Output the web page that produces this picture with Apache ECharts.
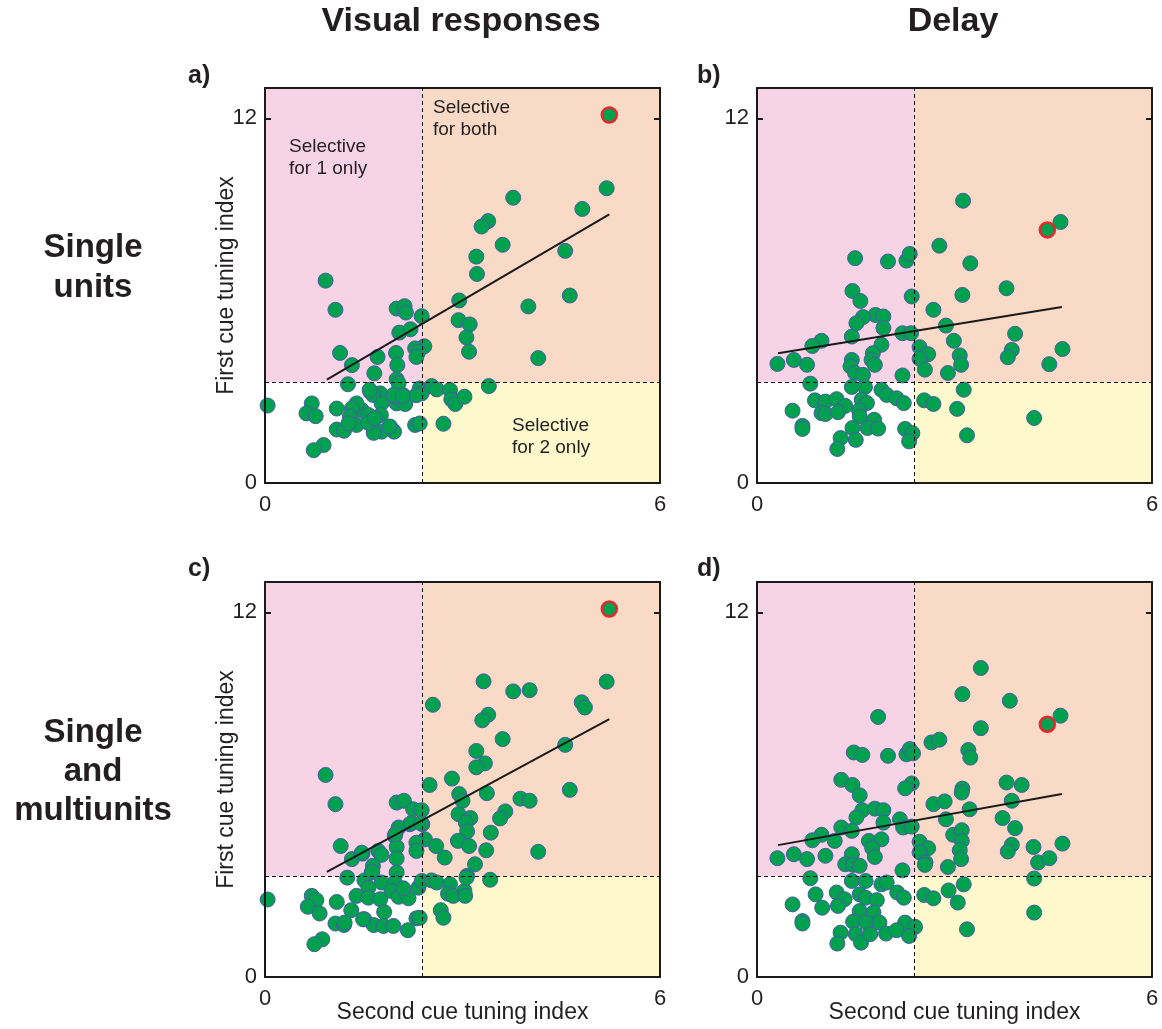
<!DOCTYPE html>
<html><head><meta charset="utf-8">
<script src="https://cdn.jsdelivr.net/npm/echarts@6/dist/echarts.min.js"></script>
<style>html,body{margin:0;padding:0;background:#fff}#c{width:1162px;height:1029px}</style>
</head><body><div id="c"></div>
<script>
// ---- data ----
const xTickValues = [0, 6];
const yTickValues = [0, 12];
const xThresh = 2.39;
const yThresh = 3.32;

const ptsA = [[5.19,9.70],[3.77,9.39],[4.82,9.02],[3.39,8.62],[3.29,8.44],[3.61,7.84],[4.56,7.64],[3.21,7.45],[3.22,6.88],[0.92,6.66],[4.63,6.17],[2.95,6.01],[4.00,5.81],[1.07,5.70],[2.00,5.74],[2.12,5.82],[2.14,5.61],[2.38,5.49],[2.94,5.36],[3.11,5.22],[2.04,4.95],[2.21,5.06],[3.06,4.79],[3.10,4.32],[2.42,4.50],[2.28,4.43],[2.33,4.32],[2.30,4.15],[1.14,4.28],[1.71,4.15],[1.99,4.28],[2.01,3.88],[4.15,4.11],[1.32,3.88],[1.66,3.61],[2.00,3.41],[2.03,3.28],[1.26,3.25],[3.40,3.19],[1.60,3.00],[1.75,2.95],[1.64,2.90],[1.77,2.62],[1.76,2.24],[1.90,1.85],[1.96,1.69],[1.77,1.69],[1.65,1.65],[1.47,2.40],[1.57,2.24],[1.39,2.62],[1.32,2.45],[1.29,2.18],[1.39,1.91],[1.57,1.98],[1.67,2.13],[2.00,2.62],[2.13,2.60],[1.98,2.84],[2.10,2.89],[2.35,3.11],[2.38,2.95],[2.30,2.89],[2.53,3.19],[2.61,3.08],[2.81,3.06],[2.83,2.75],[2.89,2.60],[3.03,2.84],[0.04,2.55],[0.71,2.62],[0.63,2.29],[0.77,2.20],[1.09,2.45],[1.09,1.76],[1.20,1.72],[2.28,1.91],[2.35,1.96],[2.71,1.95],[0.89,1.25],[0.74,1.08],[1.27,1.97],[1.89,1.86],[1.59,3.07],[1.95,2.90],[2.09,2.87]];
const hiA = [[5.23,12.11]];
const fitA = [[0.94,3.40],[5.23,8.84]];

const ptsB = [[4.61,8.59],[3.13,9.29],[2.77,7.81],[1.49,7.40],[1.99,7.29],[2.27,7.32],[2.32,7.54],[3.24,7.23],[3.79,6.41],[3.12,6.19],[1.45,6.32],[1.57,5.99],[2.35,6.14],[2.68,5.70],[1.80,5.53],[1.92,5.48],[1.61,5.46],[1.51,5.26],[1.92,5.10],[2.87,5.18],[1.44,4.82],[2.21,4.93],[2.34,4.93],[3.92,4.91],[0.98,4.68],[0.84,4.51],[2.99,4.68],[1.89,4.55],[2.47,4.47],[2.60,4.24],[2.47,4.09],[3.87,4.38],[3.81,4.14],[4.64,4.41],[1.76,4.27],[1.74,4.05],[1.79,3.89],[3.08,4.20],[3.10,3.89],[0.31,3.92],[0.56,4.05],[0.76,3.89],[4.44,3.91],[1.44,4.05],[1.42,3.84],[1.49,3.62],[1.61,3.56],[2.55,3.73],[2.21,3.54],[2.90,3.62],[0.81,3.27],[1.44,3.16],[1.64,3.16],[1.89,3.07],[1.97,2.90],[3.14,3.07],[0.88,2.72],[1.04,2.68],[1.21,2.76],[1.34,2.54],[1.59,2.74],[1.67,2.63],[2.12,2.79],[2.23,2.63],[2.54,2.72],[2.68,2.60],[3.04,2.44],[0.54,2.38],[0.98,2.30],[1.04,2.27],[1.23,2.33],[1.55,2.39],[1.56,2.19],[4.21,2.14],[0.69,1.88],[0.69,1.78],[1.45,1.81],[1.78,2.08],[1.68,1.81],[1.84,1.79],[2.25,1.78],[2.36,1.64],[2.31,1.37],[3.19,1.57],[1.27,1.48],[1.50,1.42],[1.22,1.12]];
const hiB = [[4.41,8.33]];
const fitB = [[0.32,4.27],[4.63,5.79]];

const ptsC = [[5.19,9.72],[3.32,9.73],[3.77,9.40],[4.02,9.44],[2.55,8.96],[4.81,9.04],[4.86,8.87],[3.39,8.63],[3.30,8.45],[3.61,7.83],[4.56,7.64],[3.21,7.44],[3.34,7.03],[3.21,6.90],[0.92,6.65],[2.84,6.53],[2.50,6.32],[4.63,6.16],[2.95,6.02],[3.00,5.80],[3.37,6.05],[3.88,5.87],[4.02,5.80],[1.07,5.69],[2.00,5.74],[2.11,5.80],[2.25,5.52],[2.38,5.49],[2.39,5.03],[2.20,5.03],[2.03,4.92],[1.97,4.64],[2.94,5.36],[3.12,5.23],[3.05,5.08],[3.65,5.45],[3.57,5.22],[3.07,4.79],[3.43,4.75],[2.43,4.53],[2.30,4.42],[2.30,4.15],[2.93,4.48],[3.10,4.31],[2.60,4.31],[4.15,4.12],[3.36,4.17],[1.15,4.31],[1.72,4.15],[1.77,4.02],[1.48,4.06],[1.32,3.88],[2.00,4.28],[2.00,3.90],[2.73,3.93],[3.19,3.71],[1.64,3.66],[1.62,3.44],[2.00,3.44],[1.25,3.27],[3.07,3.33],[3.42,3.20],[0.71,2.67],[0.78,2.53],[0.65,2.31],[0.83,2.09],[1.09,2.47],[1.07,1.76],[1.20,1.71],[0.87,1.24],[0.75,1.08],[1.51,3.18],[1.63,3.47],[1.77,3.11],[1.97,3.11],[1.57,2.94],[1.39,2.67],[1.57,2.61],[1.75,2.56],[1.92,2.83],[2.03,2.64],[2.18,2.59],[2.10,2.92],[1.31,2.20],[1.51,1.90],[1.65,1.71],[1.81,2.14],[1.80,1.68],[1.95,1.68],[2.17,1.54],[2.30,1.93],[2.35,1.95],[2.67,2.20],[2.71,1.95],[2.33,2.94],[2.38,3.16],[2.53,3.18],[2.61,3.11],[2.81,3.05],[2.78,2.74],[2.86,2.67],[3.03,2.83],[3.04,2.67],[3.06,3.27],[1.47,4.09],[2.22,5.06],[2.37,5.06],[1.98,4.70],[0.04,2.55],[1.21,1.79],[1.49,1.90]];
const hiC = [[5.23,12.11]];
const fitC = [[0.94,3.46],[5.23,8.49]];

const ptsD = [[4.61,8.60],[3.40,10.17],[3.12,9.31],[3.84,9.09],[1.84,8.56],[3.40,8.19],[2.65,7.72],[2.77,7.81],[1.47,7.39],[1.60,7.31],[1.99,7.28],[2.27,7.33],[2.32,7.50],[2.37,7.36],[3.21,7.47],[3.24,7.22],[3.79,6.40],[4.02,6.32],[1.28,6.49],[1.45,6.32],[1.56,5.98],[3.12,6.20],[3.11,6.07],[2.35,6.37],[2.25,6.21],[2.68,5.69],[2.85,5.78],[3.87,5.80],[3.23,5.52],[1.60,5.49],[1.79,5.54],[1.92,5.49],[1.51,5.25],[1.92,5.08],[2.17,5.19],[2.22,4.92],[2.35,4.95],[2.87,5.19],[3.73,5.23],[3.92,4.90],[1.28,4.92],[1.44,4.81],[0.98,4.68],[0.84,4.50],[1.18,4.48],[1.70,4.48],[1.89,4.53],[1.75,4.24],[1.79,3.95],[2.98,4.68],[3.11,4.83],[3.11,4.48],[2.47,4.45],[2.60,4.24],[2.47,4.10],[2.56,3.77],[2.55,3.69],[3.08,4.17],[3.10,3.88],[3.87,4.35],[3.81,4.13],[4.20,4.28],[4.64,4.39],[4.27,3.77],[4.44,3.91],[0.31,3.91],[0.56,4.04],[0.76,3.88],[1.04,3.99],[1.44,4.04],[1.34,3.71],[1.46,3.69],[1.56,3.66],[2.21,3.51],[2.90,3.62],[0.81,3.25],[4.21,3.24],[1.44,3.16],[1.65,3.16],[1.89,3.05],[1.97,3.11],[3.14,3.05],[2.91,2.85],[2.54,2.70],[2.68,2.59],[2.13,2.78],[2.23,2.61],[3.05,2.45],[0.54,2.39],[0.89,2.72],[0.99,2.28],[1.21,2.78],[1.33,2.56],[1.23,2.34],[1.56,2.72],[1.65,2.61],[1.56,2.17],[1.82,2.53],[0.69,1.84],[0.69,1.76],[1.46,1.82],[1.77,2.12],[1.66,1.79],[1.86,1.79],[2.25,1.79],[2.40,1.65],[2.31,1.35],[3.19,1.57],[4.21,2.12],[1.27,1.46],[1.50,1.41],[1.22,1.10],[1.58,1.13],[1.72,1.41],[1.96,1.43],[2.12,1.54]];
const hiD = [[4.41,8.32]];
const fitD = [[0.32,4.34],[4.63,6.02]];

const panelPts = [ptsA, ptsB, ptsC, ptsD];
const panelHi = [hiA, hiB, hiC, hiD];
const panelFit = [fitA, fitB, fitC, fitD];
const panelLetters = ['a)', 'b)', 'c)', 'd)'];
const columnTitles = ['Visual responses', 'Delay'];
const rowLabels = [['Single', 'units'], ['Single', 'and', 'multiunits']];
const yName = 'First cue tuning index';
const xName = 'Second cue tuning index';
const regionNotes = [['Selective', 'for 1 only'], ['Selective', 'for both'], ['Selective', 'for 2 only']];

// ---- layout ----
const FONT = '"Liberation Sans", Arial, Helvetica, sans-serif';
const TXT = '#231f20';
const BOX = '#1a1a1a';
const gridPos = [{left:265,top:88},{left:757,top:88},{left:265,top:582},{left:757,top:582}];
const GW = 395, GH = 395;

const chart = echarts.init(document.getElementById('c'), null, {renderer:'canvas'});

const lineOf = {show:true, onZero:false, lineStyle:{color:BOX, width:2}};
const tickOf = {show:true, inside:true, length:6, customValues:[12], lineStyle:{color:BOX, width:2}};
const grid = [], xAxis = [], yAxis = [], series = [];
gridPos.forEach((g, i) => {
  grid.push({left:g.left, top:g.top, width:GW, height:GH, show:false, containLabel:false, outerBoundsMode:'none'});
  xAxis.push({
    type:'value', gridIndex:i, min:0, max:6, z:10, position:'bottom',
    axisLine:lineOf, axisTick:{show:false}, splitLine:{show:false},
    axisLabel:{customValues:xTickValues, fontSize:22, color:TXT, fontFamily:FONT, margin:11},
    name: i >= 2 ? xName : '', nameLocation:'middle', nameGap:24, nameMoveOverlap:false,
    nameTextStyle:{fontSize:23, color:TXT, fontFamily:FONT}
  });
  xAxis.push({
    type:'value', gridIndex:i, min:0, max:6, position:'top', z:10,
    axisLine:lineOf, axisTick:{show:false}, splitLine:{show:false},
    axisLabel:{show:false}
  });
  yAxis.push({
    type:'value', gridIndex:i, min:0, max:13, z:10, position:'left',
    axisLine:lineOf, splitLine:{show:false}, axisTick:tickOf,
    axisLabel:{customValues:yTickValues, fontSize:22, color:TXT, fontFamily:FONT, margin:8},
    name: (i % 2 === 0) ? yName : '', nameLocation:'middle', nameRotate:90, nameGap:27, nameMoveOverlap:false,
    nameTextStyle:{fontSize:23, color:TXT, fontFamily:FONT}
  });
  yAxis.push({
    type:'value', gridIndex:i, min:0, max:13, position:'right', z:10,
    axisLine:lineOf, splitLine:{show:false}, axisLabel:{show:false}, axisTick:tickOf
  });
  const xi = 2 * i, yi = 2 * i;
  // background regions
  series.push({
    type:'line', xAxisIndex:xi, yAxisIndex:yi, data:[], z:1, silent:true,
    markArea:{silent:true, data:[
      [{coord:[0, yThresh], itemStyle:{color:'#f6d4e5'}}, {coord:[xThresh, 13]}],
      [{coord:[xThresh, yThresh], itemStyle:{color:'#f9dac6'}}, {coord:[6, 13]}],
      [{coord:[xThresh, 0], itemStyle:{color:'#fef9cc'}}, {coord:[6, yThresh]}]
    ]}
  });
  // dashed thresholds
  series.push({
    type:'line', xAxisIndex:xi, yAxisIndex:yi, data:[], z:2, silent:true,
    markLine:{silent:true, symbol:['none','none'], label:{show:false},
      lineStyle:{color:'#111', width:1, type:[4,3]},
      data:[{xAxis:xThresh}, {yAxis:yThresh}]}
  });
  series.push({
    type:'scatter', xAxisIndex:xi, yAxisIndex:yi, data:panelPts[i], z:3,
    symbolSize:15, itemStyle:{color:'#00a14e', borderColor:'#4a5aa8', borderWidth:1, opacity:1}
  });
  series.push({
    type:'scatter', xAxisIndex:xi, yAxisIndex:yi, data:panelHi[i], z:3,
    symbolSize:15, itemStyle:{color:'#00a14e', borderColor:'#e8262b', borderWidth:2.5, opacity:1}
  });
  series.push({
    type:'line', xAxisIndex:xi, yAxisIndex:yi, data:panelFit[i], z:4, symbol:'none',
    lineStyle:{color:'#1a1a1a', width:2}
  });
});

const graphic = [];
const tstyle = (text, x, y, font, align, va) => ({type:'text', x, y, z:50, style:{text, font, fill:TXT, align:align||'center', verticalAlign:va||'middle'}});
graphic.push(tstyle(columnTitles[0], 461, 22, 'bold 34px ' + FONT));
graphic.push(tstyle(columnTitles[1], 953, 22, 'bold 34px ' + FONT));
rowLabels[0].forEach((t, k) => graphic.push(tstyle(t, 93, 248 + k * 40, 'bold 33px ' + FONT)));
rowLabels[1].forEach((t, k) => graphic.push(tstyle(t, 93, 733 + k * 39, 'bold 33px ' + FONT)));
const letterPos = [[188,76],[697,76],[188,569],[697,569]];
panelLetters.forEach((t, i) => graphic.push(tstyle(t, letterPos[i][0], letterPos[i][1], 'bold 25px ' + FONT, 'left')));
const notePos = [[289,147],[433,108],[512,426]];
regionNotes.forEach((lines, k) => lines.forEach((t, j) =>
  graphic.push(tstyle(t, notePos[k][0], notePos[k][1] + j * 22, '19px ' + FONT, 'left'))));

chart.setOption({
  animation:false,
  backgroundColor:'#ffffff',
  textStyle:{fontFamily:FONT},
  grid, xAxis, yAxis, series, graphic
});
</script></body></html>
